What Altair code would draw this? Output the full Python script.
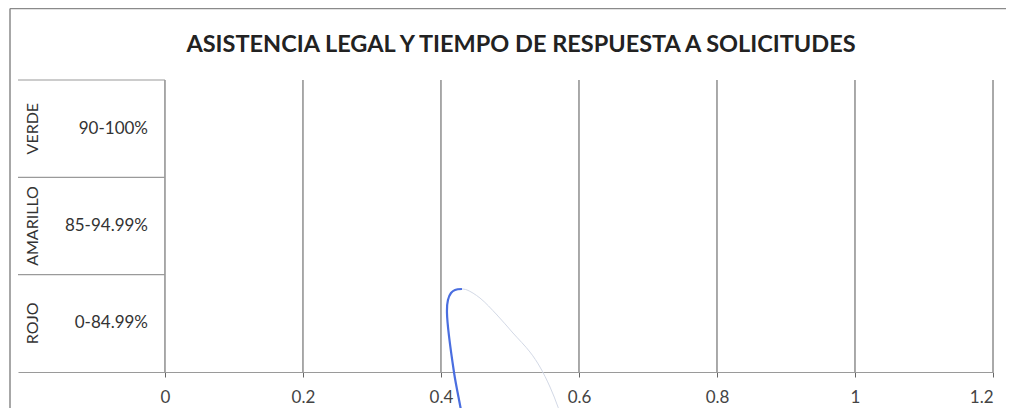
import altair as alt
import pandas as pd

title_text = "ASISTENCIA LEGAL Y TIEMPO DE RESPUESTA A SOLICITUDES"
levels = ["VERDE", "AMARILLO", "ROJO"]
ranges = ["90-100%", "85-94.99%", "0-84.99%"]
band_lower = [2, 1, 0]
x_ticks = [0, 0.2, 0.4, 0.6, 0.8, 1, 1.2]

blue_x = [0.4348, 0.4304, 0.4188, 0.4087, 0.4101, 0.4145, 0.4203, 0.4304]
blue_y = [-0.699, -0.452, 0.0, 0.606, 0.740, 0.812, 0.843, 0.853]
faint_x = [0.4304, 0.4377, 0.4565, 0.4812, 0.5043, 0.5290, 0.5435, 0.5580, 0.5696, 0.578]
faint_y = [0.853, 0.843, 0.760, 0.586, 0.401, 0.205, 0.051, -0.154, -0.360, -0.545]

X_MIN = -0.213
W, H = 975, 292
xscale = alt.Scale(domain=[X_MIN, 1.2], nice=False, zero=False)
yscale = alt.Scale(domain=[0, 3], nice=False, zero=False)
x_axis = alt.Axis(values=x_ticks, format="~g", grid=False, title=None,
                  domainColor="#9a9a9a", domainWidth=1.2,
                  tickColor="#666666", tickSize=5, tickWidth=1,
                  labelFont="Lato", labelFontSize=17, labelColor="#444444",
                  labelPadding=12)

ticks_df = pd.DataFrame({"x": x_ticks, "y0": [0] * len(x_ticks), "y1": [3] * len(x_ticks)})
rows_df = pd.DataFrame({"level": levels, "rng": ranges, "lower": band_lower})
lines_df = pd.DataFrame({"x0": [X_MIN] * len(band_lower), "x1": [0] * len(band_lower),
                         "top": [b + 1 for b in band_lower]})
blue_df = pd.DataFrame({"x": blue_x, "y": blue_y, "i": list(range(len(blue_x)))})
faint_df = pd.DataFrame({"x": faint_x, "y": faint_y, "i": list(range(len(faint_x)))})
title_df = pd.DataFrame({"t": [title_text]})

grid = alt.Chart(ticks_df).mark_rule(color="#555555", strokeWidth=1).encode(
    x=alt.X("x:Q", scale=xscale, axis=x_axis),
    y=alt.Y("y0:Q", scale=yscale, axis=None), y2="y1:Q",
)

table_lines = alt.Chart(lines_df).mark_rule(color="#9a9a9a", strokeWidth=1.2).encode(
    x=alt.X("x0:Q", scale=xscale, axis=x_axis), x2="x1:Q",
    y=alt.Y("top:Q", scale=yscale, axis=None),
)

level_text = alt.Chart(rows_df).transform_calculate(mid="datum.lower + 0.5").mark_text(
    angle=270, font="Lato", fontSize=16, color="#333333", align="center", baseline="middle"
).encode(x=alt.value(15), y=alt.Y("mid:Q", scale=yscale, axis=None), text="level:N")

range_text = alt.Chart(rows_df).transform_calculate(mid="datum.lower + 0.5").mark_text(
    font="Lato", fontSize=17, color="#333333", align="right", baseline="middle"
).encode(x=alt.value(130), y=alt.Y("mid:Q", scale=yscale, axis=None), text="rng:N")

faint_line = alt.Chart(faint_df).mark_line(color="#d3d9e6", strokeWidth=1,
                                           interpolate="catmull-rom").encode(
    x=alt.X("x:Q", scale=xscale, axis=x_axis), y=alt.Y("y:Q", scale=yscale, axis=None),
    order="i:Q")

blue_line = alt.Chart(blue_df).mark_line(color="#4a6ee0", strokeWidth=2.2,
                                         interpolate="catmull-rom").encode(
    x=alt.X("x:Q", scale=xscale, axis=x_axis), y=alt.Y("y:Q", scale=yscale, axis=None),
    order="i:Q")

title = alt.Chart(title_df).mark_text(
    font="Lato", fontSize=23.5, fontWeight="bold", color="#222222",
    align="center", baseline="middle"
).encode(x=alt.value(503), y=alt.value(-35), text="t:N")

border_left = alt.Chart(title_df).mark_rule(color="#8a8a8a", strokeWidth=1.5).encode(
    x=alt.value(-8), x2=alt.value(-8), y=alt.value(-71.5), y2=alt.value(328))
border_top = alt.Chart(title_df).mark_rule(color="#8a8a8a", strokeWidth=1.5).encode(
    x=alt.value(-8), x2=alt.value(995), y=alt.value(-71.5), y2=alt.value(-71.5))

chart = alt.layer(
    grid, table_lines, level_text, range_text, faint_line, blue_line, title,
    border_left, border_top
).properties(
    width=W, height=H,
    autosize=alt.AutoSizeParams(type="none"),
    padding={"left": 10, "top": 72, "right": 13, "bottom": 36},
    background="white",
).configure_view(stroke=None)

chart.save("out.html", embed_options={"renderer": "svg", "actions": False})
